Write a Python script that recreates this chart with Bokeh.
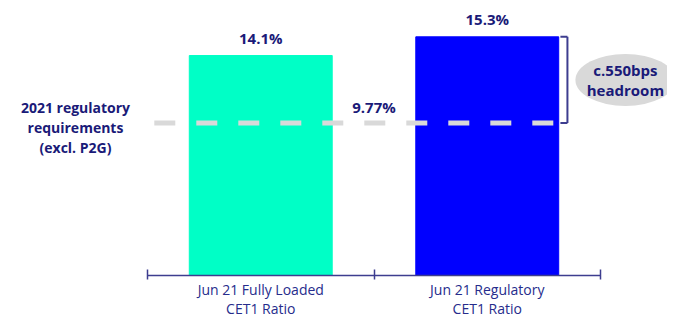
from bokeh.plotting import figure
from bokeh.models import ColumnDataSource, FixedTicker, Range1d
from bokeh.embed import file_html
from bokeh.resources import INLINE
from bokeh.core.properties import value

# ---- data ----
categories = ["Jun 21 Fully Loaded\nCET1 Ratio", "Jun 21 Regulatory\nCET1 Ratio"]
cet1_ratio = [14.1, 15.3]
bar_labels = ["14.1%", "15.3%"]
bar_colors = ["#00FFC6", "#0000FF"]
requirement = 9.77
requirement_label = "9.77%"
requirement_text = "2021 regulatory\nrequirements\n(excl. P2G)"
headroom_text = "c.550bps\nheadroom"

FONT = "Open Sans"
NAVY = "#1a1a78"
AXIS_C = "#3d3d8f"

xs = [0.5 + i for i in range(len(categories))]
bar_w = 0.631

p = figure(frame_width=659, frame_height=267, output_backend="svg",
           toolbar_location=None, y_axis_location=None,
           x_range=Range1d(-0.6137, 2.2958), y_range=Range1d(0, 17.115),
           min_border_left=8, min_border_right=0, min_border_top=8,
           min_border_bottom=0)
p.outline_line_color = None
p.xgrid.visible = False
p.ygrid.visible = False
p.background_fill_color = "white"
p.border_fill_color = "white"

src = ColumnDataSource(dict(x=xs, top=cet1_ratio, color=bar_colors, label=bar_labels))
p.vbar(x="x", top="top", bottom=0, width=bar_w, color="color", source=src)
p.text(x="x", y="top", text="label", source=src, text_align="center",
       text_baseline="middle", y_offset=-18, text_color=NAVY,
       text_font=value(FONT), text_font_style="bold", text_font_size="15px")

# requirement dashed line
p.segment(x0=[0.03], y0=[requirement], x1=[xs[-1] + bar_w / 2], y1=[requirement],
          line_color="#d9d9d9", line_width=5, line_dash="21 21")
p.text(x=[1.0], y=[requirement], text=[requirement_label], text_align="center",
       text_baseline="middle", y_offset=-16, text_color=NAVY,
       text_font=value(FONT), text_font_style="bold", text_font_size="15px")
p.text(x=[-0.318], y=[requirement], text=[requirement_text], text_align="center",
       text_baseline="middle", y_offset=4, text_color=NAVY, text_line_height=1.05,
       text_font=value(FONT), text_font_style="bold", text_font_size="14px")

# bracket
bx = 1.854
p.segment(x0=[bx], y0=[requirement], x1=[bx], y1=[cet1_ratio[-1]],
          line_color=AXIS_C, line_width=2)
p.segment(x0=[bx - 0.031, bx - 0.031], y0=[cet1_ratio[-1], requirement],
          x1=[bx, bx], y1=[cet1_ratio[-1], requirement],
          line_color=AXIS_C, line_width=2)

# headroom ellipse
mid = (requirement + cet1_ratio[-1]) / 2
p.ellipse(x=[2.11], y=[mid], width=100, height=52, width_units="screen",
          height_units="screen", fill_color="#d9d9d9", line_color=None)
p.text(x=[2.11], y=[mid], text=[headroom_text], text_align="center",
       text_baseline="middle", text_color=NAVY, text_line_height=1.0,
       text_font=value(FONT), text_font_style="bold", text_font_size="15px")

# x axis
ax = p.xaxis[0]
ax.ticker = FixedTicker(ticks=xs, minor_ticks=[0, 1, 2])
ax.bounds = (0, 2)
ax.major_label_overrides = {x: c for x, c in zip(xs, categories)}
ax.major_tick_line_color = None
ax.major_tick_in = 0
ax.major_tick_out = 0
ax.minor_tick_in = 6
ax.minor_tick_out = 4
ax.minor_tick_line_color = AXIS_C
ax.minor_tick_line_width = 1.5
ax.axis_line_color = AXIS_C
ax.axis_line_width = 1.5
ax.major_label_standoff = 0
ax.major_label_text_font = FONT
ax.major_label_text_font_size = "14px"
ax.major_label_text_color = "#262c8c"
ax.major_label_text_line_height = 1.05

open("out.html", "w").write(file_html(p, INLINE))
